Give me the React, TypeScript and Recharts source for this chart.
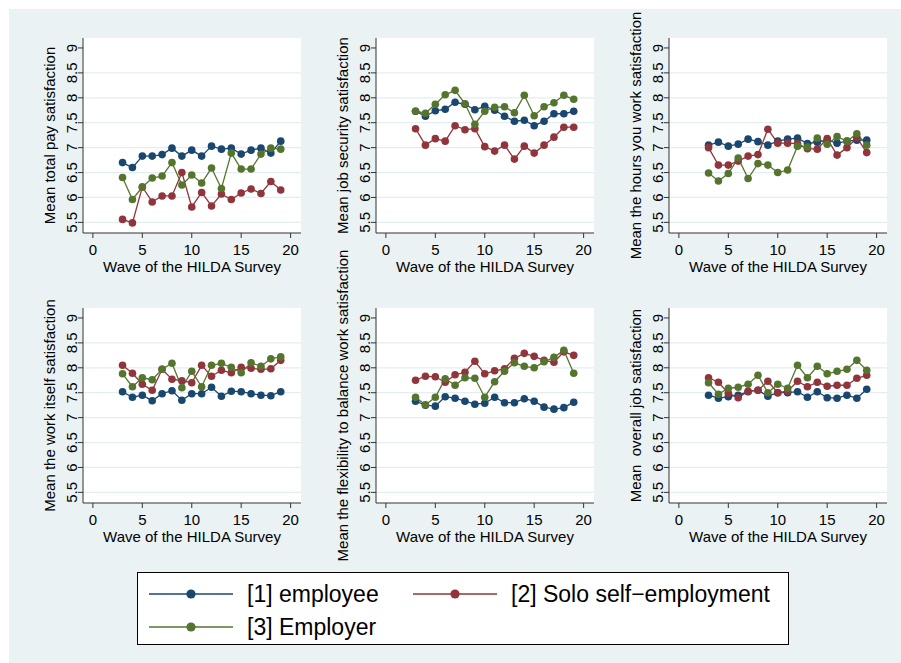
import React from "react";
import { LineChart, Line, XAxis, YAxis, CartesianGrid, ReferenceLine } from "recharts";

// waves 3..19 of the HILDA survey
const waves = [3, 4, 5, 6, 7, 8, 9, 10, 11, 12, 13, 14, 15, 16, 17, 18, 19];
const xTicks = [0, 5, 10, 15, 20];
const yTicks = [5.5, 6, 6.5, 7, 7.5, 8, 8.5, 9];

// total pay
const payEmployee = [6.70, 6.60, 6.83, 6.83, 6.86, 6.99, 6.83, 6.95, 6.83, 7.03, 6.97, 6.99, 6.87, 6.95, 6.99, 6.89, 7.13];
const paySolo = [5.56, 5.49, 6.21, 5.91, 6.03, 6.03, 6.50, 5.81, 6.10, 5.83, 6.07, 5.96, 6.09, 6.17, 6.08, 6.32, 6.15];
const payEmployer = [6.40, 5.96, 6.21, 6.39, 6.43, 6.70, 6.25, 6.45, 6.29, 6.59, 6.18, 6.89, 6.57, 6.57, 6.87, 6.99, 6.97];

// job security
const secEmployee = [7.73, 7.63, 7.74, 7.77, 7.91, 7.87, 7.76, 7.83, 7.75, 7.63, 7.53, 7.55, 7.44, 7.53, 7.68, 7.68, 7.73];
const secSolo = [7.38, 7.05, 7.18, 7.13, 7.44, 7.36, 7.38, 7.02, 6.93, 7.05, 6.77, 7.03, 6.89, 7.05, 7.21, 7.41, 7.41];
const secEmployer = [7.73, 7.69, 7.87, 8.06, 8.15, 7.88, 7.47, 7.73, 7.81, 7.82, 7.70, 8.05, 7.64, 7.82, 7.90, 8.05, 7.97];

// hours you work
const hrsEmployee = [7.05, 7.11, 7.03, 7.07, 7.17, 7.12, 7.05, 7.13, 7.17, 7.19, 7.08, 7.11, 7.15, 7.09, 7.13, 7.15, 7.15];
const hrsSolo = [7.00, 6.65, 6.65, 6.73, 6.83, 6.86, 7.37, 7.09, 7.09, 7.08, 6.98, 6.97, 7.18, 6.85, 7.00, 7.20, 6.90];
const hrsEmployer = [6.49, 6.33, 6.48, 6.79, 6.38, 6.68, 6.65, 6.50, 6.55, 7.03, 7.01, 7.19, 7.07, 7.22, 7.13, 7.28, 7.05];

// work itself
const wrkEmployee = [7.52, 7.41, 7.45, 7.34, 7.48, 7.54, 7.35, 7.48, 7.48, 7.61, 7.43, 7.53, 7.52, 7.48, 7.45, 7.44, 7.52];
const wrkSolo = [8.05, 7.89, 7.67, 7.55, 7.97, 7.77, 7.74, 7.70, 8.05, 7.83, 7.95, 7.90, 8.01, 7.99, 7.97, 7.98, 8.15];
const wrkEmployer = [7.88, 7.62, 7.80, 7.76, 7.97, 8.09, 7.60, 7.93, 7.62, 8.05, 8.09, 8.01, 7.90, 8.10, 8.03, 8.18, 8.22];

// flexibility to balance
const flxEmployee = [7.33, 7.25, 7.23, 7.42, 7.39, 7.33, 7.27, 7.29, 7.41, 7.30, 7.30, 7.38, 7.33, 7.21, 7.17, 7.20, 7.31];
const flxSolo = [7.75, 7.83, 7.82, 7.71, 7.86, 7.91, 8.13, 7.88, 7.94, 7.98, 8.19, 8.29, 8.23, 8.15, 8.11, 8.32, 8.25];
const flxEmployer = [7.41, 7.26, 7.41, 7.78, 7.65, 7.80, 7.79, 7.41, 7.72, 7.93, 8.10, 8.03, 8.00, 8.12, 8.21, 8.35, 7.89];

// overall
const allEmployee = [7.45, 7.39, 7.42, 7.45, 7.52, 7.55, 7.43, 7.50, 7.50, 7.52, 7.41, 7.52, 7.40, 7.39, 7.45, 7.39, 7.57];
const allSolo = [7.80, 7.71, 7.49, 7.40, 7.53, 7.55, 7.73, 7.50, 7.53, 7.73, 7.62, 7.71, 7.63, 7.65, 7.65, 7.79, 7.85];
const allEmployer = [7.70, 7.47, 7.59, 7.61, 7.67, 7.85, 7.50, 7.67, 7.59, 8.05, 7.80, 8.03, 7.88, 7.93, 7.97, 8.15, 7.95];

const C_EMP = "#1a476f";
const C_SOLO = "#90353b";
const C_BOSS = "#55752f";
const FONT = "'Liberation Sans', Arial, Helvetica, sans-serif";

const PLOT_W = 218;
const PLOT_H = 195;
const AXIS_W = 73;
const TOP_M = 10;
const X_H = 48;

const YTick = (props: any) => {
  const { x, y, payload } = props;
  return (
    <text
      transform={`translate(${x},${y}) rotate(-90)`}
      textAnchor="middle"
      fontSize={15}
      fontFamily={FONT}
      fill="#000"
    >
      {payload.value}
    </text>
  );
};

const Panel = ({ title, left, top, emp, solo, boss }: any) => {
  const data = waves.map((w, i) => ({ wave: w, emp: emp[i], solo: solo[i], boss: boss[i] }));
  const yTitle = (p: any) => {
    const vb = p.viewBox;
    return (
      <text
        transform={`translate(${vb.x + vb.width - 34},${vb.y + vb.height / 2}) rotate(-90)`}
        textAnchor="middle"
        dominantBaseline="central"
        fontSize={15}
        fontFamily={FONT}
        fill="#000"
        style={{ whiteSpace: "pre" }}
      >
        {title}
      </text>
    );
  };
  const xTitle = (p: any) => {
    const vb = p.viewBox;
    return (
      <text
        x={vb.x + vb.width / 2}
        y={vb.y + 33}
        textAnchor="middle"
        dominantBaseline="central"
        fontSize={15}
        fontFamily={FONT}
        fill="#000"
      >
        Wave of the HILDA Survey
      </text>
    );
  };
  return (
    <div style={{ position: "absolute", left, top }}>
      <LineChart
        width={AXIS_W + PLOT_W + 1}
        height={TOP_M + PLOT_H + X_H}
        data={data}
        margin={{ top: TOP_M, right: 1, left: 0, bottom: 0 }}
      >
        <CartesianGrid fill="#fff" horizontal={false} vertical={false} />
        {yTicks
          .filter((t) => t < 9)
          .map((t) => (
            <ReferenceLine key={t} y={t} stroke="#e4edf0" strokeWidth={1.2} />
          ))}
        <XAxis
          dataKey="wave"
          type="number"
          domain={[-1, 21.05]}
          ticks={xTicks}
          height={X_H}
          tickSize={5}
          tickMargin={6}
          stroke="#333"
          tick={{ fontSize: 15, fontFamily: FONT, fill: "#000" }}
          label={xTitle}
        />
        <YAxis
          type="number"
          domain={[5.287, 9.2]}
          ticks={yTicks}
          width={AXIS_W}
          tickSize={5}
          tickMargin={1}
          stroke="#333"
          tick={<YTick />}
          label={yTitle}
        />
        <Line dataKey="emp" stroke={C_EMP} strokeWidth={1.3} dot={{ r: 3.8, fill: C_EMP, stroke: C_EMP, strokeWidth: 0 }} activeDot={false} isAnimationActive={false} />
        <Line dataKey="solo" stroke={C_SOLO} strokeWidth={1.3} dot={{ r: 3.8, fill: C_SOLO, stroke: C_SOLO, strokeWidth: 0 }} activeDot={false} isAnimationActive={false} />
        <Line dataKey="boss" stroke={C_BOSS} strokeWidth={1.3} dot={{ r: 3.8, fill: C_BOSS, stroke: C_BOSS, strokeWidth: 0 }} activeDot={false} isAnimationActive={false} />
      </LineChart>
    </div>
  );
};

const LegendItem = ({ color, label, left, top }: any) => (
  <div style={{ position: "absolute", left, top, display: "flex", alignItems: "center", height: 30 }}>
    <svg width={86} height={30}>
      <line x1={1} y1={15} x2={85} y2={15} stroke={color} strokeWidth={1.5} />
      <circle cx={43} cy={15} r={4.6} fill={color} />
    </svg>
    <span style={{ marginLeft: 13, fontSize: 23, fontFamily: FONT, color: "#000", whiteSpace: "nowrap" }}>{label}</span>
  </div>
);

export default function App() {
  return (
    <div style={{ position: "absolute", left: 0, top: 0, width: 901, height: 663, background: "#fff" }}>
      <style>{`.recharts-surface, .recharts-wrapper { overflow: visible !important; }`}</style>
      <div style={{ position: "absolute", left: 9, top: 9, width: 892, height: 654, background: "#eaf2f3" }} />
      <Panel title="Mean total pay satisfaction" left={10} top={28} emp={payEmployee} solo={paySolo} boss={payEmployer} />
      <Panel title="Mean job security satisfaction" left={303} top={28} emp={secEmployee} solo={secSolo} boss={secEmployer} />
      <Panel title="Mean the hours you work satisfaction" left={596} top={28} emp={hrsEmployee} solo={hrsSolo} boss={hrsEmployer} />
      <Panel title="Mean the work itself satisfaction" left={10} top={298} emp={wrkEmployee} solo={wrkSolo} boss={wrkEmployer} />
      <Panel title="Mean the flexibility to balance work satisfaction" left={303} top={298} emp={flxEmployee} solo={flxSolo} boss={flxEmployer} />
      <Panel title="Mean  overall job satisfaction" left={596} top={298} emp={allEmployee} solo={allSolo} boss={allEmployer} />
      <div
        style={{
          position: "absolute",
          left: 137,
          top: 572,
          width: 650,
          height: 71,
          background: "#fff",
          border: "1px solid #000",
        }}
      >
        <LegendItem color={C_EMP} label="[1] employee" left={10} top={6} />
        <LegendItem color={C_SOLO} label="[2] Solo self−employment" left={274} top={6} />
        <LegendItem color={C_BOSS} label="[3] Employer" left={10} top={39} />
      </div>
    </div>
  );
}
